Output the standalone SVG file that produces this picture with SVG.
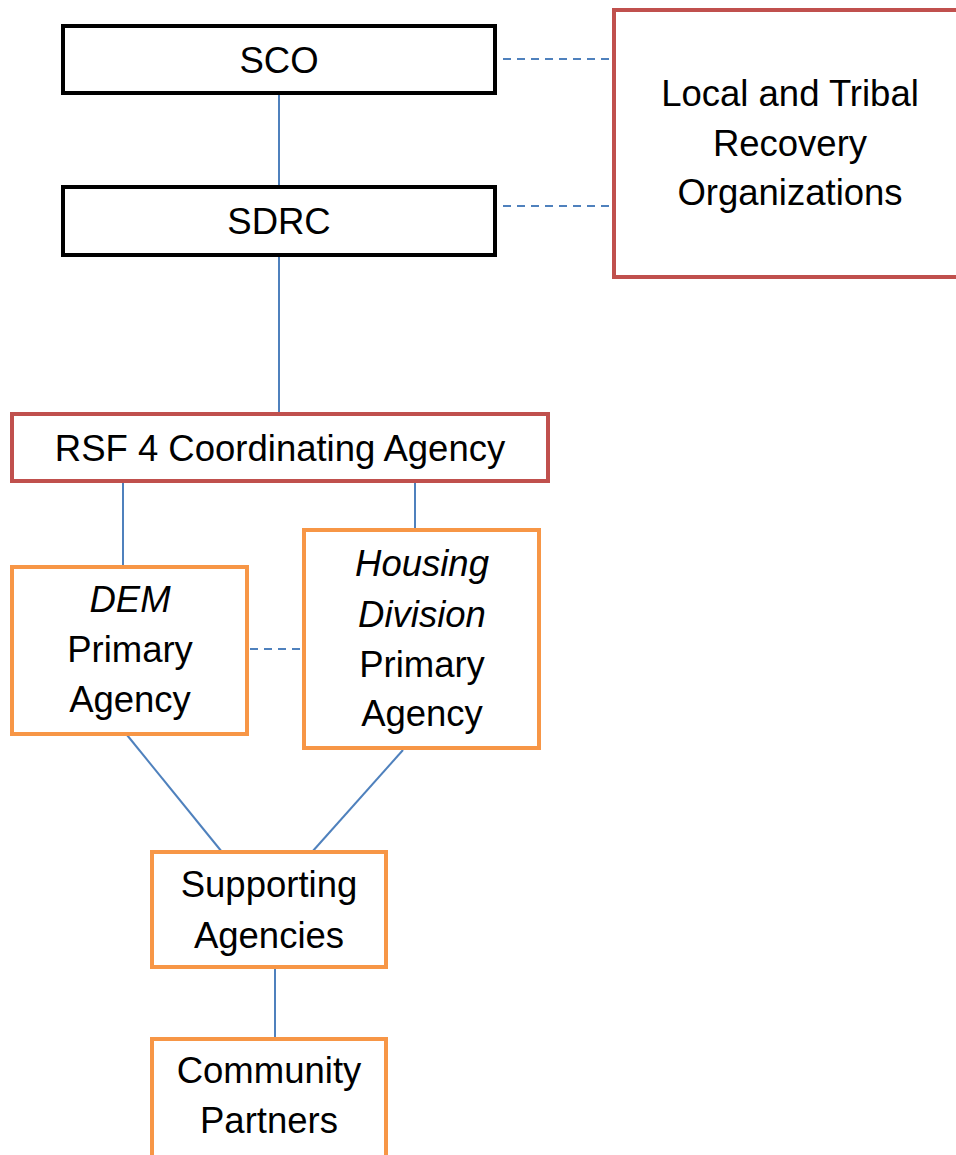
<svg xmlns="http://www.w3.org/2000/svg" width="956" height="1155" viewBox="0 0 956 1155">
<style>
.b{fill:#fff;stroke:#000;stroke-width:4}
.r{fill:#fff;stroke:#C0504D;stroke-width:4}
.o{fill:#fff;stroke:#F79646;stroke-width:4}
.t{font-family:"Liberation Sans",Arial,sans-serif;font-size:36.5px;fill:#000;text-anchor:middle}
.i{font-style:italic}
.c{stroke:#4F81BD;stroke-width:2;fill:none}
.d{stroke:#4F81BD;stroke-width:2;fill:none;stroke-dasharray:8,6}
</style>
<rect width="956" height="1155" fill="#fff"/>
<g id="connectors">
<line class="c" x1="279" y1="93" x2="279" y2="186"/>
<line class="c" x1="279" y1="256" x2="279" y2="413"/>
<line class="c" x1="123" y1="481" x2="123" y2="566"/>
<line class="c" x1="415" y1="481" x2="415" y2="529"/>
<line class="c" x1="127" y1="735" x2="222" y2="852"/>
<line class="c" x1="403" y1="750" x2="312" y2="852"/>
<line class="c" x1="275" y1="968" x2="275" y2="1039"/>
<line class="d" x1="503" y1="59" x2="613" y2="59"/>
<line class="d" x1="503" y1="206" x2="613" y2="206"/>
<line class="d" x1="250" y1="649" x2="303" y2="649"/>
</g>
<g id="sco">
<rect class="b" x="63" y="26" width="432" height="67"/>
<text class="t" x="279" y="73">SCO</text>
</g>
<g id="sdrc">
<rect class="b" x="63" y="187" width="432" height="68"/>
<text class="t" x="279" y="234">SDRC</text>
</g>
<g id="local">
<rect class="r" x="614" y="10" width="360" height="267"/>
<text class="t" x="790" y="106">Local and Tribal</text>
<text class="t" x="790" y="156">Recovery</text>
<text class="t" x="790" y="205">Organizations</text>
</g>
<g id="rsf4">
<rect class="r" x="12" y="414" width="536" height="67"/>
<text class="t" x="280" y="461">RSF 4 Coordinating Agency</text>
</g>
<g id="dem">
<rect class="o" x="12" y="567" width="235" height="167"/>
<text class="t i" x="130" y="612">DEM</text>
<text class="t" x="130" y="662">Primary</text>
<text class="t" x="130" y="712">Agency</text>
</g>
<g id="housing">
<rect class="o" x="304" y="530" width="235" height="218"/>
<text class="t i" x="422" y="576">Housing</text>
<text class="t i" x="422" y="627">Division</text>
<text class="t" x="422" y="677">Primary</text>
<text class="t" x="422" y="726">Agency</text>
</g>
<g id="supporting">
<rect class="o" x="152" y="852" width="234" height="115"/>
<text class="t" x="269" y="897">Supporting</text>
<text class="t" x="269" y="948">Agencies</text>
</g>
<g id="community">
<rect class="o" x="152" y="1039" width="234" height="140"/>
<text class="t" x="269" y="1083">Community</text>
<text class="t" x="269" y="1133">Partners</text>
</g>
</svg>
